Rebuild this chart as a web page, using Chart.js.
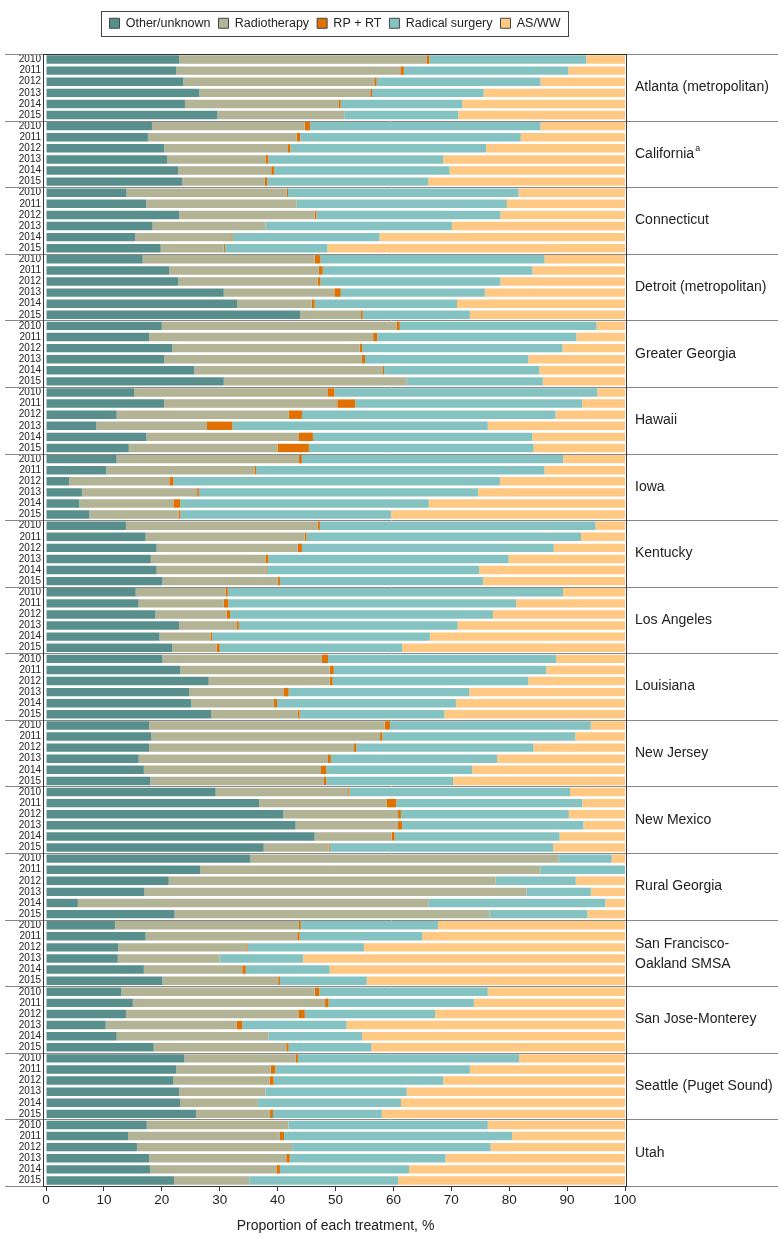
<!DOCTYPE html>
<html>
<head>
<meta charset="utf-8">
<title>Treatment by registry</title>
<script src="https://cdn.jsdelivr.net/npm/chart.js@4.4.0/dist/chart.umd.min.js"></script>
<style>
  html, body { margin: 0; padding: 0; background: #fff; }
</style>
</head>
<body>
<canvas id="mycanvas" width="783" height="1246"></canvas>
<script>
var regions = ['Atlanta (metropolitan)', 'California', 'Connecticut', 'Detroit (metropolitan)',
	'Greater Georgia', 'Hawaii', 'Iowa', 'Kentucky', 'Los Angeles', 'Louisiana', 'New Jersey',
	'New Mexico', 'Rural Georgia', ['San Francisco-', 'Oakland SMSA'], 'San Jose-Monterey',
	'Seattle (Puget Sound)', 'Utah'];
var footnotes = { 'California': 'a' };
var years = ['2010', '2011', '2012', '2013', '2014', '2015'];

// one value per region-year, 2010..2015 for each region in order (%)
var otherUnknown = [
	23.0, 22.5, 23.7, 26.5, 24.0, 29.6,   // Atlanta
	18.3, 17.6, 20.4, 20.9, 22.8, 23.5,   // California
	13.9, 17.3, 23.0, 18.4, 15.4, 19.8,   // Connecticut
	16.7, 21.3, 22.8, 30.7, 33.0, 43.9,   // Detroit
	20.0, 17.8, 21.8, 20.4, 25.6, 30.7,   // Greater Georgia
	15.2, 20.4, 12.2, 8.7, 17.3, 14.3,    // Hawaii
	12.2, 10.4, 4.0, 6.2, 5.7, 7.5,       // Iowa
	13.8, 17.2, 19.1, 18.1, 19.1, 20.1,   // Kentucky
	15.5, 16.0, 18.9, 23.0, 19.6, 21.8,   // Los Angeles
	20.1, 23.2, 28.1, 24.7, 25.1, 28.5,   // Louisiana
	17.8, 18.2, 17.8, 16.0, 16.9, 18.0,   // New Jersey
	29.3, 36.8, 41.0, 43.1, 46.4, 37.6,   // New Mexico
	35.3, 26.6, 21.2, 17.0, 5.5, 22.2,    // Rural Georgia
	11.9, 17.2, 12.5, 12.4, 16.9, 20.1,   // San Francisco-Oakland
	13.0, 15.0, 13.8, 10.3, 12.2, 18.6,   // San Jose-Monterey
	23.9, 22.5, 22.0, 23.0, 23.2, 25.9,   // Seattle
	17.4, 14.2, 15.7, 17.8, 18.0, 22.1    // Utah
];
var radiotherapy = [
	42.7, 38.7, 33.0, 29.5, 26.6, 21.9,
	26.4, 25.7, 21.4, 17.0, 16.1, 14.3,
	27.7, 26.0, 23.4, 19.5, 16.6, 10.9,
	29.7, 25.8, 24.1, 19.1, 12.9, 10.5,
	40.6, 38.7, 32.4, 34.1, 32.6, 31.6,
	33.4, 29.9, 29.7, 19.1, 26.4, 25.7,
	31.5, 25.6, 17.3, 19.9, 16.3, 15.4,
	33.1, 27.5, 24.4, 19.8, 18.8, 19.9,
	15.5, 14.7, 12.3, 9.9, 8.8, 7.7,
	27.5, 25.8, 20.9, 16.4, 14.2, 15.0,
	40.7, 39.5, 35.4, 32.7, 30.6, 30.0,
	22.9, 22.0, 19.8, 17.7, 13.3, 11.2,
	53.2, 58.8, 56.4, 66.0, 60.6, 54.4,
	31.8, 26.2, 22.1, 17.6, 17.0, 20.0,
	33.4, 33.2, 29.9, 22.6, 26.2, 22.9,
	19.2, 16.3, 16.6, 14.9, 13.4, 12.8,
	24.5, 26.2, 26.8, 23.7, 21.8, 13.0
];
var rpPlusRt = [
	0.5, 0.6, 0.4, 0.3, 0.3, 0,
	0.9, 0.6, 0.4, 0.5, 0.5, 0.4,
	0.2, 0, 0.3, 0, 0.2, 0.2,
	1.0, 0.7, 0.5, 1.1, 0.5, 0.3,
	0.5, 0.7, 0.4, 0.6, 0.2, 0,
	1.2, 3.1, 2.3, 4.4, 2.4, 5.4,
	0.5, 0.3, 0.7, 0.3, 1.2, 0.3,
	0.4, 0.3, 0.7, 0.5, 0.2, 0.4,
	0.4, 0.8, 0.6, 0.4, 0.3, 0.5,
	1.1, 0.7, 0.5, 0.8, 0.6, 0.3,
	0.9, 0.4, 0.4, 0.5, 0.9, 0.4,
	0.2, 1.7, 0.5, 0.7, 0.5, 0.2,
	0, 0, 0, 0, 0, 0,
	0.3, 0.4, 0.2, 0, 0.6, 0.3,
	0.8, 0.6, 1.0, 1.0, 0, 0.4,
	0.4, 0.8, 0.7, 0, 0, 0.5,
	0, 0.7, 0, 0.6, 0.6, 0
];
var radicalSurgery = [
	27.1, 28.4, 28.3, 19.3, 21.0, 19.7,
	39.8, 38.1, 33.8, 30.2, 30.3, 27.8,
	39.8, 36.3, 31.8, 32.2, 25.4, 17.7,
	38.7, 36.2, 31.1, 24.9, 24.6, 18.5,
	34.0, 34.4, 34.6, 28.2, 26.8, 23.5,
	45.4, 39.2, 43.8, 44.1, 37.9, 38.8,
	45.1, 49.8, 56.4, 48.2, 42.9, 36.4,
	47.6, 47.4, 43.5, 41.5, 36.7, 35.1,
	57.9, 49.7, 45.4, 37.8, 37.6, 31.5,
	39.4, 36.7, 33.8, 31.2, 30.9, 25.0,
	34.7, 33.3, 30.6, 28.7, 25.2, 21.9,
	38.1, 32.1, 29.0, 31.3, 28.5, 38.6,
	9.2, 14.6, 13.9, 11.1, 30.5, 16.9,
	23.7, 21.2, 20.1, 14.4, 14.5, 15.0,
	29.1, 25.1, 22.5, 18.0, 16.2, 14.3,
	38.2, 33.6, 29.3, 24.4, 24.7, 18.8,
	34.4, 39.4, 34.3, 26.9, 22.3, 25.7
];
var asWw = [
	6.7, 9.8, 14.6, 24.4, 28.1, 28.8,
	14.6, 18.0, 24.0, 31.4, 30.3, 34.0,
	18.4, 20.4, 21.5, 29.9, 42.4, 51.4,
	13.9, 16.0, 21.5, 24.2, 29.0, 26.8,
	4.9, 8.4, 10.8, 16.7, 14.8, 14.2,
	4.8, 7.4, 12.0, 23.7, 16.0, 15.8,
	10.7, 13.9, 21.6, 25.4, 33.9, 40.4,
	5.1, 7.6, 12.3, 20.1, 25.2, 24.5,
	10.7, 18.8, 22.8, 28.9, 33.7, 38.5,
	11.9, 13.6, 16.7, 26.9, 29.2, 31.2,
	5.9, 8.6, 15.8, 22.1, 26.4, 29.7,
	9.5, 7.4, 9.7, 7.2, 11.3, 12.4,
	2.3, 0, 8.5, 5.9, 3.4, 6.5,
	32.3, 35.0, 45.1, 55.6, 51.0, 44.6,
	23.7, 26.1, 32.8, 48.1, 45.4, 43.8,
	18.3, 26.8, 31.4, 37.7, 38.7, 42.0,
	23.7, 19.5, 23.2, 31.0, 37.3, 39.2
];

var sans = "'Liberation Sans', Arial, sans-serif";
var textColor = '#222';
var topPad = 9;

// y labels: the years repeated for every region
var yearLabels = [];
for (var r = 0; r < regions.length; r++) {
	for (var k = 0; k < years.length; k++) {
		yearLabels.push(years[k]);
	}
}

function series(label, values, color) {
	return {
		label: label,
		data: values,
		backgroundColor: color,
		borderWidth: 0,
		xAxisID: 'x',
		yAxisID: 'y'
	};
}

// separators between regions, frame round the plot, region names, legend box
var framePlugin = {
	id: 'frame',
	afterDraw: function(chart) {
		var ctx = chart.ctx;
		var area = chart.chartArea;
		var ys = chart.scales.y;
		var n = years.length;
		ctx.save();
		ctx.lineWidth = 1;
		ctx.strokeStyle = '#888';
		for (var r = 0; r <= regions.length; r++) {
			var py = Math.round(ys.getPixelForValue(r * n - 0.5)) + 0.5;
			ctx.beginPath();
			ctx.moveTo(5, py);
			ctx.lineTo(778, py);
			ctx.stroke();
		}
		ctx.strokeStyle = '#333';
		ctx.strokeRect(Math.round(area.left) - 2.5, Math.round(area.top) + 0.5,
			Math.round(area.right - area.left) + 4, Math.round(area.bottom - area.top));

		// region names on the right
		ctx.fillStyle = textColor;
		ctx.textAlign = 'left';
		ctx.textBaseline = 'middle';
		var x0 = area.right + 10;
		for (var i = 0; i < regions.length; i++) {
			var cy = (ys.getPixelForValue(i * n) + ys.getPixelForValue(i * n + n - 1)) / 2;
			var name = regions[i];
			ctx.font = '14px ' + sans;
			if (Array.isArray(name)) {
				ctx.fillText(name[0], x0, cy - 9);
				ctx.fillText(name[1], x0, cy + 11);
			} else {
				ctx.fillText(name, x0, cy);
				if (footnotes[name]) {
					var w = ctx.measureText(name).width;
					ctx.font = '9px ' + sans;
					ctx.fillText(footnotes[name], x0 + w + 1, cy - 5);
				}
			}
		}

		var hb = chart.legend.legendHitBoxes;
		if (hb && hb.length) {
			var l = hb[0].left, rr = 0;
			for (var j = 0; j < hb.length; j++) {
				l = Math.min(l, hb[j].left);
				rr = Math.max(rr, hb[j].left + hb[j].width);
			}
			ctx.strokeStyle = '#444';
			ctx.strokeRect(Math.round(l - 8) + 0.5, Math.round(hb[0].top - 6) + 0.5,
				Math.round(rr - l + 16), Math.round(hb[0].height + 12));
		}
		ctx.restore();
	}
};

var ctx = document.getElementById('mycanvas').getContext('2d');

var chart = new Chart(ctx, {
	type: 'bar',
	data: {
		labels: yearLabels,
		datasets: [
			series('Other/unknown', otherUnknown, '#588e8b'),
			series('Radiotherapy', radiotherapy, '#b3b396'),
			series('RP + RT', rpPlusRt, '#e07000'),
			series('Radical surgery', radicalSurgery, '#85c3c2'),
			series('AS/WW', asWw, '#ffc883')
		]
	},
	options: {
		indexAxis: 'y',
		responsive: false,
		animation: false,
		layout: { padding: { top: topPad, right: 113, bottom: 0, left: 0 } },
		datasets: {
			bar: { barPercentage: 0.76, categoryPercentage: 1 }
		},
		plugins: {
			legend: {
				position: 'top',
				labels: {
					boxWidth: 10,
					boxHeight: 10,
					padding: 8,
					color: textColor,
					font: { family: sans, size: 12.5 },
					generateLabels: function(chart) {
						var items = Chart.defaults.plugins.legend.labels.generateLabels(chart);
						items.forEach(function(it) {
							it.strokeStyle = '#444';
							it.lineWidth = 1;
						});
						return items;
					}
				}
			},
			tooltip: { enabled: false }
		},
		scales: {
			x: {
				type: 'linear',
				position: 'bottom',
				stacked: true,
				min: 0,
				max: 100,
				ticks: { stepSize: 10, padding: 1, color: textColor, font: { family: sans, size: 13.5 } },
				grid: { drawOnChartArea: false, drawTicks: true, tickLength: 5, color: '#333' },
				border: { display: false },
				title: {
					display: true,
					text: 'Proportion of each treatment, %',
					color: textColor,
					font: { family: sans, size: 14 },
					padding: { top: 0, bottom: 11 }
				},
				afterFit: function(scale) { scale.height = 60; }
			},
			xTop: {
				type: 'linear',
				position: 'top',
				ticks: { display: false },
				grid: { display: false, drawTicks: false },
				border: { display: false },
				afterFit: function(scale) {
					scale.height = Math.max(0, 54 - topPad - scale.chart.legend.height);
				}
			},
			y: {
				type: 'category',
				position: 'left',
				stacked: true,
				ticks: { autoSkip: false, padding: 5, color: textColor, font: { family: sans, size: 10 } },
				grid: { display: false, drawTicks: false },
				border: { display: false },
				afterFit: function(scale) { scale.width = 46; }
			},
			yRight: {
				type: 'linear',
				position: 'right',
				ticks: { display: false },
				grid: { display: false, drawTicks: false },
				border: { display: false },
				afterFit: function(scale) { scale.width = 45; }
			}
		}
	},
	plugins: [framePlugin]
});
</script>
</body>
</html>
